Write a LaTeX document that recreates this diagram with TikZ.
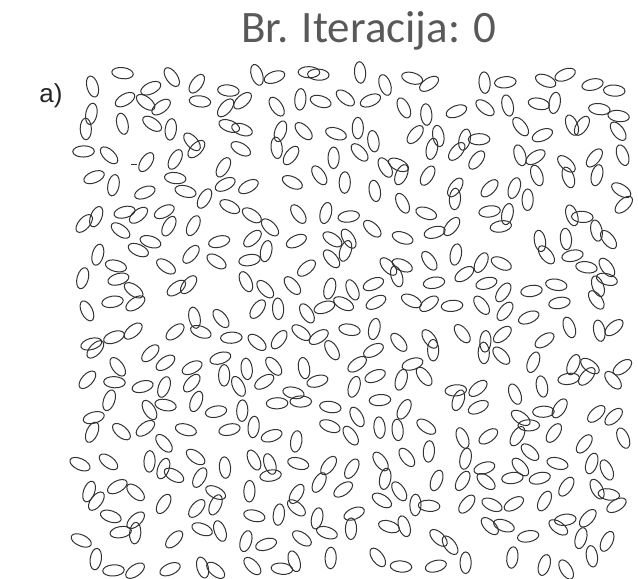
\documentclass[tikz,border=0pt]{standalone}
\usepackage{fontspec}
\setmainfont{Liberation Sans}
\newfontfamily\titlefont{Carlito}
\begin{document}
\begin{tikzpicture}[x=1pt,y=-1pt, egg/.style={draw=black!80, line width=1pt}]
\useasboundingbox (0,0) rectangle (638,579);
\node[font=\titlefont\fontsize{45}{54}\selectfont, text=black!65, anchor=center] (title) at (369,31) {Br. Iteracija: 0};
\node[font=\fontsize{26}{30}\selectfont, text=black!85] (lab) at (51,96) {a)};
\pgfmathsetseed{12345}
\foreach \r in {0,...,19}{
  \foreach \c in {0,...,20}{
    \pgfmathsetmacro\px{90+\c*26.3+(rnd-0.5)*20}
    \pgfmathsetmacro\py{82+\r*25.2+(rnd-0.5)*20}
    \pgfmathsetmacro\ang{rnd*180}
    \pgfmathsetmacro\keep{rnd}
    \ifdim\keep pt<0.97pt
      \draw[egg,rotate around={\ang:(\px,\py)}] (\px,\py) ellipse (10.8 and 5.6);
    \fi
  }
}
\coordinate (d1) at (131,164);
\coordinate (d2) at (137,164);
\draw[egg] (d1) -- (d2);
\end{tikzpicture}
\end{document}
